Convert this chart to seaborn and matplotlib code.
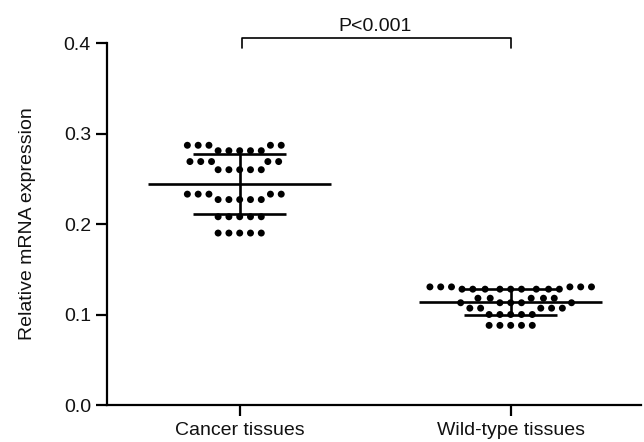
import numpy as np
import pandas as pd
import matplotlib
matplotlib.use("Agg")
import matplotlib.pyplot as plt
import seaborn as sns

# group names and values
groups = ["Cancer tissues", "Wild-type tissues"]

cancer_vals = [0.287, 0.287, 0.287, 0.287, 0.287,
               0.281, 0.281, 0.281, 0.281, 0.281,
               0.269, 0.269, 0.269, 0.269, 0.269,
               0.260, 0.260, 0.260, 0.260, 0.260,
               0.233, 0.233, 0.233, 0.233, 0.233,
               0.227, 0.227, 0.227, 0.227, 0.227,
               0.208, 0.208, 0.208, 0.208, 0.208,
               0.190, 0.190, 0.190, 0.190, 0.190]

wild_vals = [0.1305, 0.1305, 0.1305, 0.1305, 0.1305, 0.1305,
             0.128, 0.128, 0.128, 0.128, 0.128, 0.128, 0.128, 0.128, 0.128,
             0.118, 0.118, 0.118, 0.118, 0.118,
             0.113, 0.113, 0.113, 0.113, 0.113,
             0.107, 0.107, 0.107, 0.107, 0.107,
             0.100, 0.100, 0.100, 0.100, 0.100,
             0.088, 0.088, 0.088, 0.088, 0.088]

yticks = [0.0, 0.1, 0.2, 0.3, 0.4]
ytick_labels = ["0.0", "0.1", "0.2", "0.3", "0.4"]
p_text = "P<0.001"

df = pd.DataFrame({
    "group": [groups[0]] * len(cancer_vals) + [groups[1]] * len(wild_vals),
    "value": cancer_vals + wild_vals,
})

sns.set_style("ticks")
plt.rcParams["font.family"] = ["Liberation Sans", "DejaVu Sans"]

fig = plt.figure(figsize=(6.44, 4.42), dpi=100)
ax = fig.add_axes([0.166, 0.0837, 0.829, 0.819])

# linewidth only widens the swarm spacing, edges are not drawn
sns.swarmplot(data=df, x="group", y="value", order=groups, color="black",
              size=5, linewidth=2.4, edgecolor="none", ax=ax)

# mean line and SD error bars
for i, vals in enumerate([cancer_vals, wild_vals]):
    m = np.mean(vals)
    sd = np.std(vals, ddof=1)
    ax.hlines(m, i - 0.337, i + 0.337, color="black", lw=1.9, zorder=3)
    ax.vlines(i, m - sd, m + sd, color="black", lw=1.9, zorder=3)
    ax.hlines([m - sd, m + sd], i - 0.172, i + 0.172, color="black", lw=1.9, zorder=3)

# significance bracket
ax.plot([0.01, 0.01, 1.0, 1.0], [0.3945, 0.405, 0.405, 0.3945],
        color="black", lw=1.2, clip_on=False)
ax.text(0.5, 0.409, p_text, ha="center", va="bottom", fontsize=14, color="#111111")

ax.set_xlim(-0.49, 1.48)
ax.set_ylim(0, 0.4)
ax.set_yticks(yticks)
ax.set_yticklabels(ytick_labels)
ax.set_xlabel("")
ax.set_ylabel("Relative mRNA expression", fontsize=14, labelpad=20, color="#111111")
ax.tick_params(axis="both", labelsize=14, length=8, width=1.6, colors="black",
               labelcolor="#111111")
ax.tick_params(axis="x", pad=4)
for s in ["left", "bottom"]:
    ax.spines[s].set_linewidth(1.6)
    ax.spines[s].set_color("black")
sns.despine(ax=ax)

fig.savefig("out.png", dpi=100)
